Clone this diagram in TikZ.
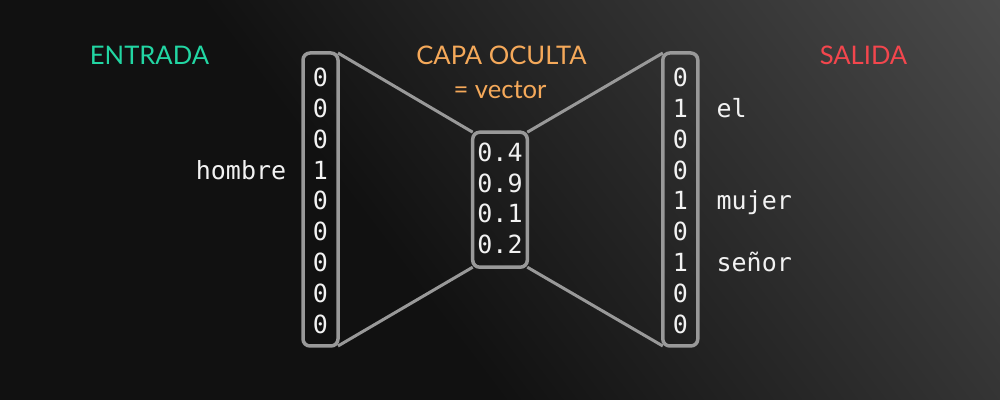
\documentclass[tikz,border=0pt]{standalone}
\usepackage{fontspec}
\setmainfont{Lato}
\setmonofont{DejaVu Sans Mono}
\usetikzlibrary{positioning}
\definecolor{vcBack}{HTML}{111111}
\definecolor{vcBackLight}{HTML}{4A4A4A}
\definecolor{vcBackEnd}{HTML}{878787}
\definecolor{vcFrame}{HTML}{999999}
\definecolor{vcText}{HTML}{F2F2F2}
\definecolor{vcIn}{HTML}{22D6A3}
\definecolor{vcHidden}{HTML}{F5A95A}
\definecolor{vcOut}{HTML}{F3464D}
\pgfdeclarehorizontalshading{vcBg}{100bp}{color(0bp)=(vcBack); color(45bp)=(vcBack); color(71.67bp)=(vcBackLight); color(100bp)=(vcBackEnd)}
\tikzset{
  column/.style={draw=vcFrame, line width=1.75pt, rounded corners=3.5pt, inner sep=0pt, outer sep=0pt, minimum width=17.5pt, minimum height=146.5pt},
  hiddenbox/.style={column, minimum width=27.3pt, minimum height=67.5pt},
  link/.style={draw=vcFrame, line width=1.5pt},
  digit/.style={anchor=base, text=vcText, font=\ttfamily\fontsize{12.5}{15}\selectfont, inner sep=0pt},
  word/.style={digit},
  heading/.style={anchor=base, font=\fontsize{12.8}{15}\selectfont, inner sep=0pt}
}
\begin{document}
\begin{tikzpicture}[x=0.5pt,y=-0.5pt]
  \begin{scope}
    \clip (0,0) rectangle (1000,400);
    \shade[shading=vcBg, shading angle=37] (500,200) circle (600);
  \end{scope}
  \useasboundingbox (0,0) rectangle (1000,400);

  % three vectors
  \node[column] (input) at (320.5,199.5) {};
  \node[hiddenbox] (hidden) at (500,199.7) {};
  \node[column] (output) at (680.3,199.5) {};
  \draw[link] (input.north east) -- (hidden.north west);
  \draw[link] (input.south east) -- (hidden.south west);
  \draw[link] (hidden.north east) -- (output.north west);
  \draw[link] (hidden.south east) -- (output.south west);

  \foreach \val [count=\i] in {0,0,0,1,0,0,0,0,0}{
    \node[digit] (in\i) at (320.5,{86.7+30.8*(\i-1)}) {\val};
  }
  \foreach \val [count=\i] in {0.4,0.9,0.1,0.2}{
    \node[digit] (hid\i) at (500,{161.7+30.5*(\i-1)}) {\val};
  }
  \foreach \val [count=\i] in {0,1,0,0,1,0,1,0,0}{
    \node[digit] (out\i) at (680.3,{86.7+30.8*(\i-1)}) {\val};
  }

  % words
  \node[word, anchor=base east] (hombre) at ([xshift=-13pt]in4.base west) {hombre};
  \node[word, anchor=base west] (el) at ([xshift=14pt]out2.base east) {el};
  \node[word, anchor=base west] (mujer) at ([xshift=14pt]out5.base east) {mujer};
  \node[word, anchor=base west] (senor) at ([xshift=14pt]out7.base east) {señor};

  % headings
  \node[heading, text=vcIn] (entrada) at (149.5,65) {ENTRADA};
  \node[heading, text=vcHidden] (capa) at (501.5,65) {CAPA OCULTA};
  \node[heading, text=vcHidden] (vector) at (500,99) {= vector};
  \node[heading, text=vcOut] (salida) at (863.5,65) {SALIDA};
\end{tikzpicture}
\end{document}
